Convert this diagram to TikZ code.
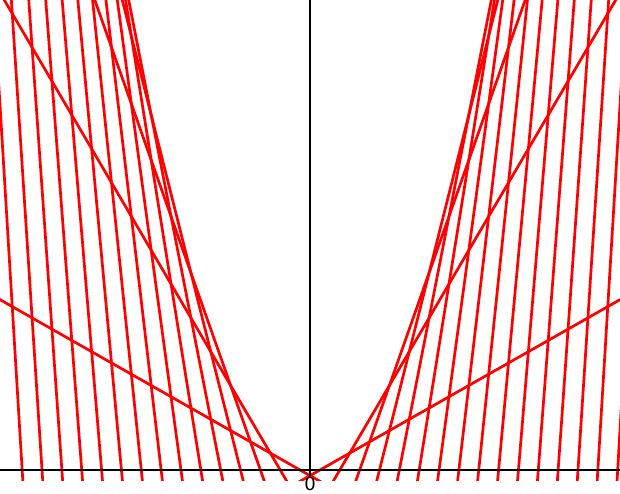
\documentclass[tikz,border=0pt]{standalone}
\usepackage{fontspec}
\setmainfont{DejaVu Sans}
\begin{document}
\begin{tikzpicture}[x=1pt,y=1pt,
  tangent/.style={draw=red, line width=2.7pt},
  axis/.style={draw=black, line width=1.1pt},
  ticklabel/.style={anchor=north, inner sep=0pt, font=\fontsize{18}{18}\selectfont}]
\useasboundingbox (0,0) rectangle (620,493);
\fill[white] (0,0) rectangle (620,493);
\coordinate (O) at (310,23);
\begin{scope}
\clip (0,13) rectangle (620,493);
\foreach \k in {-29,-27,...,31} {
  \pgfmathsetmacro{\kk}{(\k)*(\k)}
  \pgfmathsetmacro{\m}{0.56771*(\k)}
  \pgfmathsetmacro{\b}{-5.6346*\kk}
  \pgfmathsetmacro{\xt}{310+(475-\b)/\m}
  \pgfmathsetmacro{\xb}{310+(-15-\b)/\m}
  \draw[tangent] (\xb,8) -- (\xt,498);
}
\end{scope}
\coordinate (xl) at (0,23);
\coordinate (xr) at (620,23);
\coordinate (yt) at (310,493);
\coordinate (yb) at (310,17);
\draw[axis] (xl) -- (xr);
\draw[axis] (yb) -- (yt);
\node[ticklabel] (zero) at (310,16.5) {0};
\end{tikzpicture}
\end{document}
